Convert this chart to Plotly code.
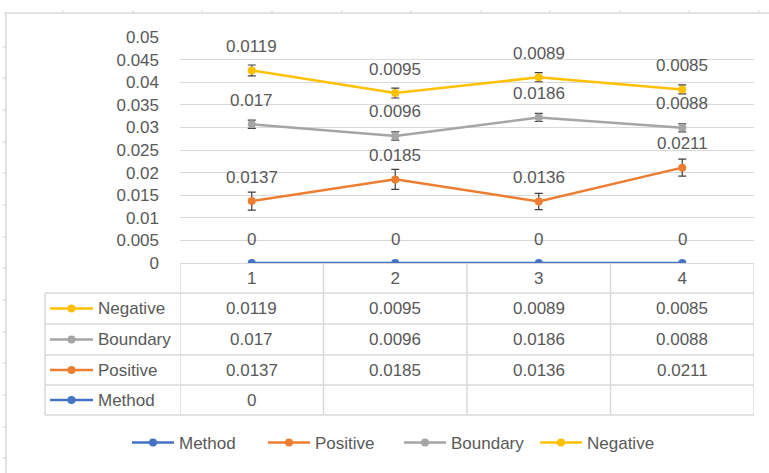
import plotly.graph_objects as go

# ---------------- data ----------------
categories = ["1", "2", "3", "4"]
method = [0, None, None, None]
positive = [0.0137, 0.0185, 0.0136, 0.0211]
boundary = [0.017, 0.0096, 0.0186, 0.0088]
negative = [0.0119, 0.0095, 0.0089, 0.0085]

err_positive = [0.002, 0.0022, 0.0018, 0.0019]
err_boundary = [0.0009, 0.0009, 0.0009, 0.0009]
err_negative = [0.0012, 0.0011, 0.001, 0.001]

y_ticks = [0, 0.005, 0.01, 0.015, 0.02, 0.025, 0.03, 0.035, 0.04, 0.045, 0.05]
y_ticktext = ["0", "0.005", "0.01", "0.015", "0.02", "0.025", "0.03", "0.035", "0.04", "0.045", "0.05"]

series_names = ["Method", "Positive", "Boundary", "Negative"]
colors = {"Method": "#4472C4", "Positive": "#ED7D31", "Boundary": "#A5A5A5", "Negative": "#FFC000"}

# ---------------- layout constants ----------------
W, H = 769, 473
FONT = "Liberation Sans"
TXT = "#595959"
GRID = "#D9D9D9"
FS = 17

plot_l, plot_r = 180, 754
plot_t, plot_b = 37, 263
row_lines = [293, 324, 355, 385, 415]
table_left = 45


def px(x):
    return x / W


def py(y):
    return 1 - y / H


x = [i + 1 for i in range(len(categories))]
raw = {
    "Method": method,
    "Positive": positive,
    "Boundary": boundary,
    "Negative": negative,
}
errs = {"Method": None, "Positive": err_positive, "Boundary": err_boundary, "Negative": err_negative}

# stacked (Excel stacked line: empty cells treated as zero)
cum = [0.0] * len(x)
stacked = {}
for name in series_names:
    vals = [v if v is not None else 0 for v in raw[name]]
    cum = [c + v for c, v in zip(cum, vals)]
    stacked[name] = list(cum)

fig = go.Figure()
for name in series_names:
    tr = dict(
        x=x,
        y=stacked[name],
        mode="lines+markers",
        name=name,
        line=dict(color=colors[name], width=2.5),
        marker=dict(color=colors[name], size=8),
    )
    if errs[name] is not None:
        tr["error_y"] = dict(type="data", array=errs[name], visible=True,
                             color="#404040", thickness=1.2, width=4)
    fig.add_trace(go.Scatter(**tr))

annotations = []
# data labels (individual values above stacked points)
for name in series_names:
    for i, xv in enumerate(x):
        v = raw[name][i]
        lab = v if v is not None else 0
        annotations.append(dict(
            x=xv, y=stacked[name][i], xref="x", yref="y",
            text=f"{lab:g}", showarrow=False, yshift=24,
            font=dict(family=FONT, size=FS, color=TXT),
        ))

shapes = []
# outer frame (spreadsheet remnants)
shapes.append(dict(type="line", xref="paper", yref="paper", x0=px(4), x1=1, y0=py(13), y1=py(13),
                   line=dict(color=GRID, width=1.5)))
shapes.append(dict(type="line", xref="paper", yref="paper", x0=px(6), x1=px(6), y0=py(13), y1=0,
                   line=dict(color=GRID, width=1.5)))
for tx in [63, 133, 202, 272, 342, 411, 481, 550, 620, 689, 759]:
    shapes.append(dict(type="line", xref="paper", yref="paper", x0=px(tx), x1=px(tx), y0=py(10), y1=py(13),
                       line=dict(color=GRID, width=1)))
for ty in [47, 78, 110, 142, 173, 205, 237, 268, 300, 332, 363, 395, 427, 458]:
    shapes.append(dict(type="line", xref="paper", yref="paper", x0=px(2), x1=px(6), y0=py(ty), y1=py(ty),
                       line=dict(color=GRID, width=1)))

# table: vertical lines at category boundaries
for k in range(len(categories) + 1):
    shapes.append(dict(type="line", xref="x", yref="paper", x0=0.5 + k, x1=0.5 + k,
                       y0=py(plot_b), y1=py(row_lines[-1]), line=dict(color=GRID, width=1.5)))
shapes.append(dict(type="line", xref="paper", yref="paper", x0=px(table_left), x1=px(table_left),
                   y0=py(row_lines[0]), y1=py(row_lines[-1]), line=dict(color=GRID, width=1.5)))
for ry in row_lines:
    shapes.append(dict(type="line", xref="paper", yref="paper", x0=px(table_left), x1=px(plot_r),
                       y0=py(ry), y1=py(ry), line=dict(color=GRID, width=1.5)))

# table rows (reverse order: Negative first)
table_order = ["Negative", "Boundary", "Positive", "Method"]
for r, name in enumerate(table_order):
    yc = (row_lines[r] + row_lines[r + 1]) / 2
    shapes.append(dict(type="line", xref="paper", yref="paper", x0=px(50), x1=px(93),
                       y0=py(yc), y1=py(yc), line=dict(color=colors[name], width=2.5)))
    shapes.append(dict(type="circle", xref="paper", yref="paper", x0=px(67.5), x1=px(75.5),
                       y0=py(yc + 4), y1=py(yc - 4), fillcolor=colors[name],
                       line=dict(color=colors[name], width=0)))
    annotations.append(dict(x=px(96), y=py(yc), xref="paper", yref="paper", text=name,
                            showarrow=False, xanchor="left", yanchor="middle",
                            font=dict(family=FONT, size=FS, color=TXT)))
    for i, xv in enumerate(x):
        v = raw[name][i]
        if v is None:
            continue
        annotations.append(dict(x=xv, y=py(yc), xref="x", yref="paper", text=f"{v:g}",
                                showarrow=False, xanchor="center", yanchor="middle",
                                font=dict(family=FONT, size=FS, color=TXT)))

fig.update_layout(
    width=W, height=H, autosize=False,
    margin=dict(l=0, r=0, t=0, b=0, autoexpand=False),
    paper_bgcolor="white", plot_bgcolor="white",
    font=dict(family=FONT, size=FS, color=TXT),
    xaxis=dict(range=[0.5, 4.5], domain=[px(plot_l), px(plot_r)],
               tickmode="array", tickvals=x, ticktext=categories,
               showgrid=False, zeroline=False, showline=False, ticks="",
               ticklabelstandoff=3,
               tickfont=dict(family=FONT, size=FS, color=TXT)),
    yaxis=dict(range=[0, 0.05], domain=[py(plot_b), py(plot_t)],
               tickmode="array", tickvals=y_ticks, ticktext=y_ticktext,
               showgrid=True, gridcolor=GRID, gridwidth=1.2,
               zeroline=True, zerolinecolor=GRID, zerolinewidth=1.2,
               showline=False, ticks="", ticklabelstandoff=20,
               tickfont=dict(family=FONT, size=FS, color=TXT)),
    legend=dict(orientation="h", x=px(127), xanchor="left", y=py(443), yanchor="middle",
                itemwidth=42, entrywidth=79,
                font=dict(family=FONT, size=FS, color=TXT), bgcolor="rgba(0,0,0,0)"),
    shapes=shapes,
    annotations=annotations,
    showlegend=True,
)

fig.write_html("out.html", config={"displayModeBar": False},
               post_script="document.body.style.margin='0';document.body.style.overflow='hidden';")
